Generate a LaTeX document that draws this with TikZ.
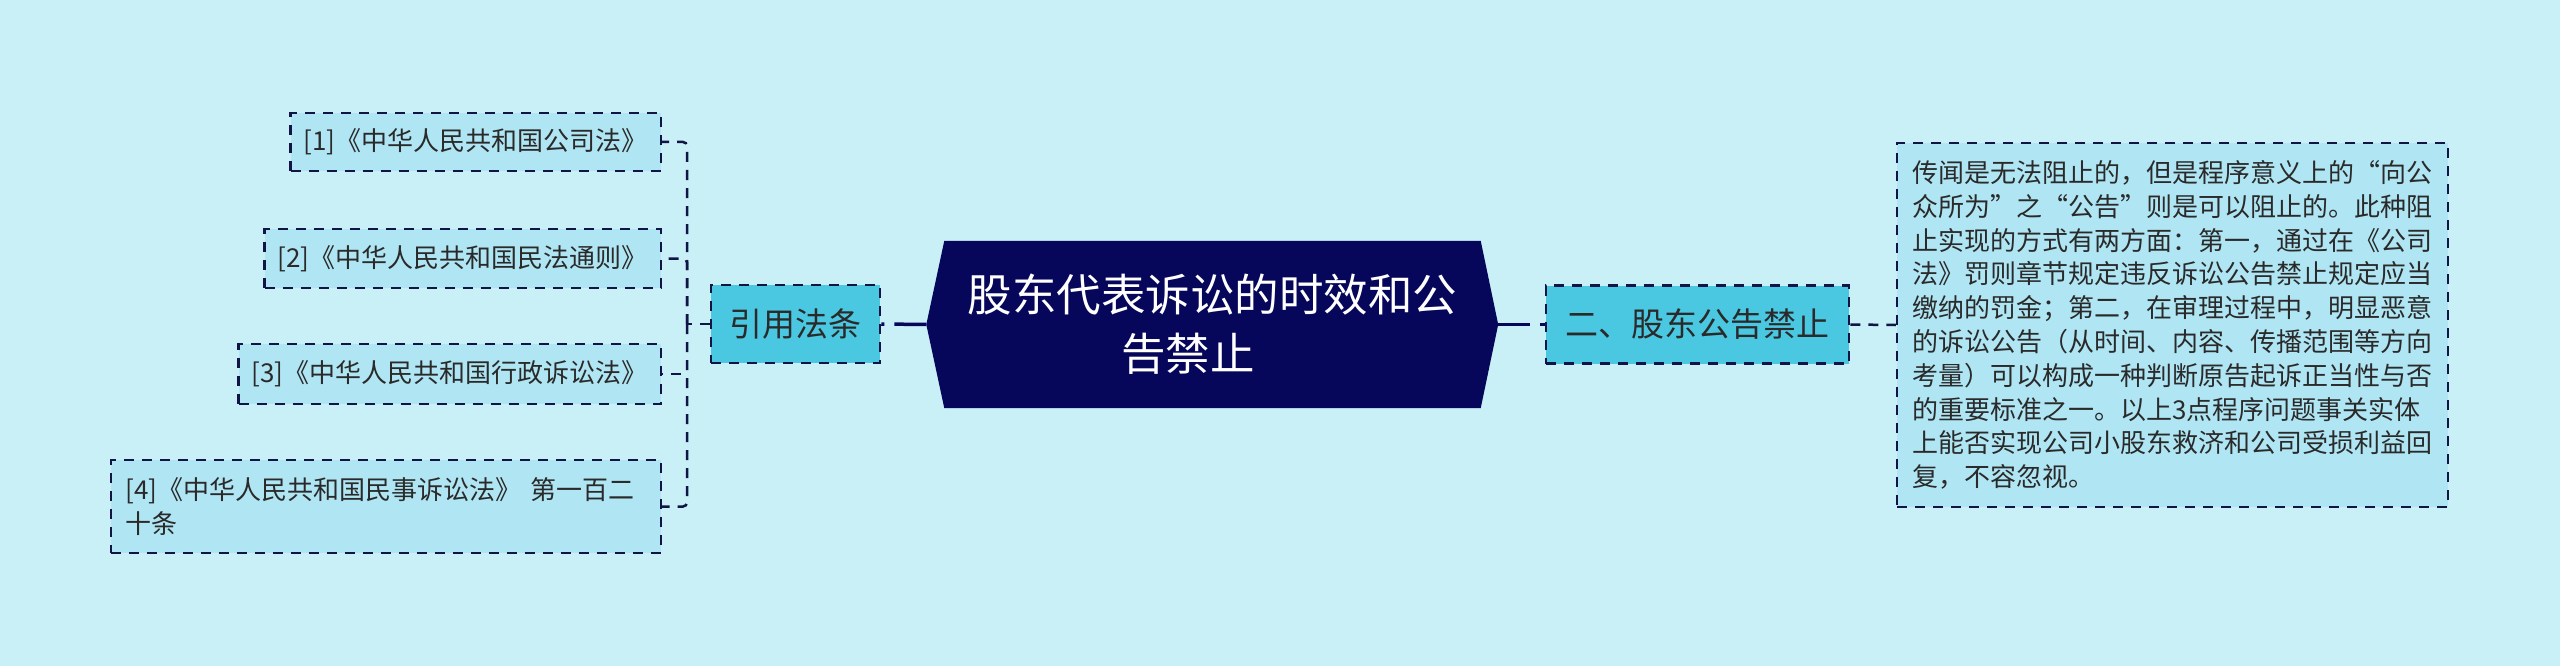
\documentclass[tikz,border=0pt]{standalone}
\usepackage{fontspec}
\setmainfont{Noto Sans CJK SC}
\usetikzlibrary{backgrounds}
\definecolor{bgc}{HTML}{C9EFF7}
\definecolor{leaffill}{HTML}{B0E6F4}
\definecolor{branchfill}{HTML}{4AC8E2}
\definecolor{navy}{HTML}{06065A}
\definecolor{edgec}{HTML}{101545}
\definecolor{txt}{HTML}{2A2A2A}
\begin{document}
\begin{tikzpicture}[x=1pt,y=-1pt,
  dashbox/.style={draw=edgec, line width=2.5pt, dash pattern=on 10pt off 8pt, text=txt},
  leaf/.style={dashbox, fill=leaffill, font=\fontsize{26}{34}\selectfont, inner xsep=13pt, inner ysep=0pt, anchor=east, align=left},
  bigbox/.style={dashbox, fill=leaffill, font=\fontsize{26}{33.8}\selectfont, inner xsep=12pt, inner ysep=0pt, minimum width=551pt, minimum height=364pt, align=left},
  branch/.style={dashbox, fill=branchfill, font=\fontsize{33}{40}\selectfont, inner sep=0pt, minimum height=78pt},
  central/.style={text=white, font=\fontsize{44.5}{59}\selectfont, inner sep=0pt, minimum width=536pt, minimum height=167pt, align=center},
  link/.style={draw=edgec, line width=2.5pt, dash pattern=on 10pt off 8pt, rounded corners=4pt},
  mainlink/.style={draw=navy, line width=3.5pt, dash pattern=on 32pt off 10pt}
]
\useasboundingbox (0,0) rectangle (2560,666);

\node[central] (c) at (1212.5,324.5) {股东代表诉讼的时效和公\\告禁止\hspace*{1.1em}};
\coordinate (cL) at ([xshift=-18pt]c.west);
\coordinate (cR) at ([xshift=17.5pt]c.east);

\node[branch, minimum width=169pt] (yin) at (795.5,324) {引用法条};
\node[branch, minimum width=303pt] (er) at (1697.5,324.5) {二、股东公告禁止};

\node[leaf, minimum height=58pt] (l1) at (662,142) {[1]《中华人民共和国公司法》};
\node[leaf, minimum height=59pt] (l2) at (662,258.5) {[2]《中华人民共和国民法通则》};
\node[leaf, minimum height=60pt] (l3) at (662,374) {[3]《中华人民共和国行政诉讼法》};
\node[leaf, minimum height=93pt, inner xsep=15pt, text width=520pt] (l4) at (662,506.5) {[4]《中华人民共和国民事诉讼法》 第一百二\\十条};

\node[bigbox] (big) at (2172.5,325) {传闻是无法阻止的，但是程序意义上的“向公\\
众所为”之“公告”则是可以阻止的。此种阻\\
止实现的方式有两方面：第一，通过在《公司\\
法》罚则章节规定违反诉讼公告禁止规定应当\\
缴纳的罚金；第二，在审理过程中，明显恶意\\
的诉讼公告（从时间、内容、传播范围等方向\\
考量）可以构成一种判断原告起诉正当性与否\\
的重要标准之一。以上3点程序问题事关实体\\
上能否实现公司小股东救济和公司受损利益回\\
复，不容忽视。};

\coordinate (jL) at (687,324);
\draw[mainlink] (cL) -- (yin.east);
\draw[mainlink] (cR) -- (er.west);
\draw[link] (yin.west) -- (jL);
\draw[link] (jL) |- (l1.east);
\draw[link] (jL) |- (l2.east);
\draw[link] (jL) |- (l3.east);
\draw[link] (jL) |- (l4.east);
\draw[link] (er.east) -- (big.west);

\begin{scope}[on background layer]
\fill[bgc] (0,0) rectangle (2560,666);
\fill[navy] (cL) -- (c.north west) -- (c.north east) -- (cR) -- (c.south east) -- (c.south west) -- cycle;
\end{scope}
\end{tikzpicture}
\end{document}
